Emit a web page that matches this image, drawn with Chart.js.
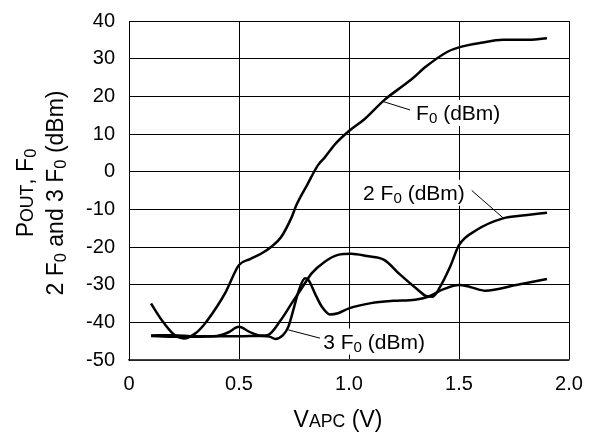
<!DOCTYPE html>
<html>
<head>
<meta charset="utf-8">
<script src="https://cdn.jsdelivr.net/npm/chart.js@4.4.1/dist/chart.umd.min.js"></script>
<style>
  html, body { margin: 0; padding: 0; background: #fff; }
</style>
</head>
<body>
<canvas id="graphicHarmonics" width="592" height="432"></canvas>
<script>
// tick labels
const xTicks = [0, 0.5, 1.0, 1.5, 2.0];
const yTicks = [40, 30, 20, 10, 0, -10, -20, -30, -40, -50];

// F0 (dBm)
const f0X = [0.1, 0.15, 0.2, 0.25, 0.3, 0.34, 0.4, 0.44, 0.5, 0.55, 0.6, 0.65, 0.69, 0.74, 0.76, 0.81, 0.86, 0.89, 0.94, 1.0, 1.07, 1.16, 1.25, 1.29, 1.35, 1.45, 1.5, 1.6, 1.7, 1.8, 1.9];
const f0Y = [-35, -39.5, -43, -44.3, -43, -40.7, -35.8, -31.9, -24.8, -23.2, -21.8, -19.8, -17.5, -12, -9, -3.5, 1.8, 3.8, 7.5, 10.8, 13.9, 19, 23, 24.8, 27.9, 31.9, 33, 34.2, 35, 35, 35.4];

// 2 F0 (dBm)
const f2X = [0.1, 0.2, 0.3, 0.4, 0.45, 0.5, 0.55, 0.6, 0.63, 0.69, 0.74, 0.79, 0.83, 0.89, 0.95, 1.01, 1.08, 1.16, 1.23, 1.31, 1.35, 1.38, 1.41, 1.46, 1.5, 1.58, 1.7, 1.8, 1.9];
const f2Y = [-43.5, -43.4, -43.7, -43.6, -42.7, -41.2, -42.6, -43.5, -43.4, -39.4, -34.9, -30.5, -27, -23.9, -22.1, -21.8, -22.4, -23.4, -27.2, -31.2, -33, -33.2, -31, -25.2, -19.5, -15.5, -12.4, -11.6, -10.9];

// 3 F0 (dBm)
const f3X = [0.1, 0.2, 0.3, 0.4, 0.5, 0.6, 0.64, 0.665, 0.7, 0.724, 0.747, 0.77, 0.8, 0.815, 0.845, 0.876, 0.914, 0.95, 1.0, 1.1, 1.2, 1.3, 1.36, 1.43, 1.5, 1.55, 1.62, 1.76, 1.9];
const f3Y = [-43.6, -43.8, -43.8, -43.7, -43.7, -43.6, -43.8, -44.4, -43.4, -41.2, -36.7, -31.9, -28.3, -28.7, -32.3, -35.8, -37.9, -37.6, -36.3, -34.9, -34.3, -34.0, -33.2, -31.2, -30.1, -30.6, -31.6, -30.1, -28.5];

const FONT = '"Liberation Sans", Arial, Helvetica, sans-serif';

function toPoints(xs, ys) {
  return xs.map((v, i) => ({ x: v, y: ys[i] }));
}

function lineSet(xs, ys) {
  return {
    data: toPoints(xs, ys),
    borderColor: '#000',
    borderWidth: 2.5,
    pointRadius: 0,
    fill: false,
    cubicInterpolationMode: 'monotone'
  };
}

// text with subscripts / small caps, drawn piece by piece
function richWidth(ctx, parts, size) {
  let w = 0;
  parts.forEach(p => {
    ctx.font = (size * (p.scale || 1)) + 'px ' + FONT;
    w += ctx.measureText(p.t).width;
  });
  return w;
}

function drawRich(ctx, parts, x0, base, size) {
  let cx = x0;
  parts.forEach(p => {
    ctx.font = (size * (p.scale || 1)) + 'px ' + FONT;
    ctx.fillText(p.t, cx, base + (p.dy || 0) * size);
    cx += ctx.measureText(p.t).width;
  });
}

const sub0 = { t: '0', scale: 0.72, dy: 0.14 };

// callouts: text left edge / centre in data units, leader line ends
const callouts = [
  { parts: [{ t: 'F' }, sub0, { t: ' (dBm)' }], x: 1.305, y: 15.6, from: [1.277, 16.4], to: [1.156, 18.6] },
  { parts: [{ t: '2 F' }, sub0, { t: ' (dBm)' }], x: 1.064, y: -5.6, from: [1.558, -5.0], to: [1.701, -12.3] },
  { parts: [{ t: '3 F' }, sub0, { t: ' (dBm)' }], x: 0.883, y: -45.1, from: [0.868, -44.2], to: [0.724, -42.0] }
];

const labelPlugin = {
  id: 'richLabels',
  afterDatasetsDraw(chart) {
    const { ctx, scales } = chart;
    const sx = scales.x, sy = scales.y;
    const size = 21;
    ctx.save();
    ctx.fillStyle = '#000';
    ctx.textBaseline = 'alphabetic';
    ctx.textAlign = 'left';
    callouts.forEach(c => {
      const px = sx.getPixelForValue(c.x);
      const py = sy.getPixelForValue(c.y);
      const w = richWidth(ctx, c.parts, size);
      ctx.fillStyle = '#fff'; // white box hides the grid behind the label
      ctx.fillRect(px - 3, py - size * 0.62, w + 6, size * 1.24);
      ctx.fillStyle = '#000';
      drawRich(ctx, c.parts, px, py + size * 0.36, size);
      ctx.beginPath();
      ctx.lineWidth = 1;
      ctx.strokeStyle = '#000';
      ctx.moveTo(sx.getPixelForValue(c.from[0]), sy.getPixelForValue(c.from[1]));
      ctx.lineTo(sx.getPixelForValue(c.to[0]), sy.getPixelForValue(c.to[1]));
      ctx.stroke();
    });

    // axis titles
    const tsize = 23;
    const xt = [{ t: 'V' }, { t: 'APC', scale: 0.77 }, { t: ' (V)' }];
    const xw = richWidth(ctx, xt, tsize);
    drawRich(ctx, xt, 338 - xw / 2, 418.5 + tsize * 0.36, tsize);

    const y1 = [{ t: 'P' }, { t: 'OUT', scale: 0.77 }, { t: ', F' }, sub0];
    const y2 = [{ t: '2 F' }, sub0, { t: ' and 3 F' }, sub0, { t: ' (dBm)' }];
    [[y1, 24.5], [y2, 54.5]].forEach(([parts, cx]) => {
      const w = richWidth(ctx, parts, tsize);
      ctx.save();
      ctx.translate(cx, 193);
      ctx.rotate(-Math.PI / 2);
      drawRich(ctx, parts, -w / 2, tsize * 0.36, tsize);
      ctx.restore();
    });
    ctx.restore();
  }
};

new Chart(document.getElementById('graphicHarmonics'), {
  type: 'line',
  data: {
    datasets: [lineSet(f0X, f0Y), lineSet(f2X, f2Y), lineSet(f3X, f3Y)]
  },
  options: {
    responsive: false,
    animation: false,
    events: [],
    layout: { padding: { top: 21, right: 23, left: 0, bottom: 0 } },
    plugins: { legend: { display: false }, tooltip: { enabled: false } },
    scales: {
      x: {
        type: 'linear',
        min: 0,
        max: 2,
        afterBuildTicks: s => { s.ticks = xTicks.map(v => ({ value: v })); },
        // fixed axis size so the plot box sits where the original does
        afterFit: s => { s.height = 72; s.paddingLeft = 0; s.paddingRight = 0; },
        ticks: {
          color: '#000',
          padding: 12,
          font: { family: FONT, size: 20 },
          callback: v => (v === 0 ? '0' : v.toFixed(1))
        },
        grid: { color: '#000', lineWidth: 1, drawTicks: false },
        border: { color: '#444', width: 1.5 }
      },
      y: {
        min: -50,
        max: 40,
        afterBuildTicks: s => { s.ticks = yTicks.map(v => ({ value: v })); },
        afterFit: s => { s.width = 129; s.paddingTop = 0; s.paddingBottom = 0; },
        ticks: {
          color: '#000',
          padding: 14,
          font: { family: FONT, size: 20 }
        },
        grid: { color: '#000', lineWidth: 1, drawTicks: false },
        border: { color: '#000', width: 1 }
      }
    }
  },
  plugins: [labelPlugin]
});
</script>
</body>
</html>
